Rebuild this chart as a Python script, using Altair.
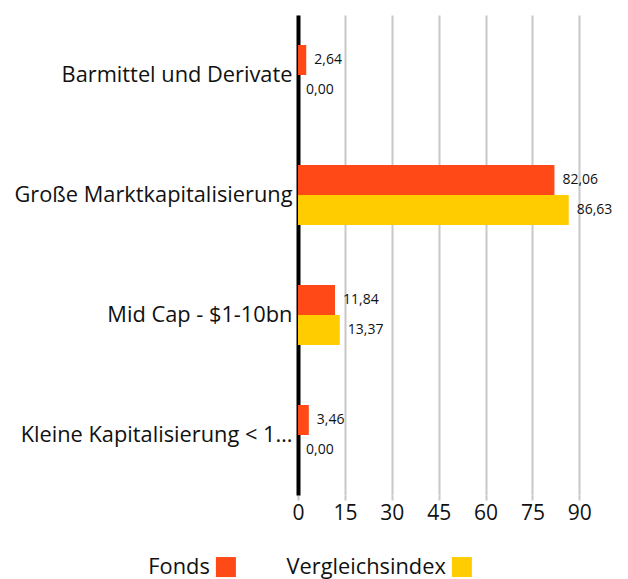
import altair as alt
import pandas as pd

categories = ["Barmittel und Derivate", "Große Marktkapitalisierung", "Mid Cap - $1-10bn", "Kleine Kapitalisierung < 1…"]
series = ["Fonds", "Vergleichsindex"]
fonds = [2.64, 82.06, 11.84, 3.46]
index_vals = [0.00, 86.63, 13.37, 0.00]
colors = ["#FF4A17", "#FFCC00"]
x_ticks = [0, 15, 30, 45, 60, 75, 90]

rows = []
for c, f, v in zip(categories, fonds, index_vals):
    rows.append({"cat": c, "series": series[0], "value": f})
    rows.append({"cat": c, "series": series[1], "value": v})
df = pd.DataFrame(rows)

FONT = "Open Sans"

y_enc = alt.Y("cat:N", sort=categories, title=None,
              scale=alt.Scale(paddingInner=0.5, paddingOuter=0.25),
              axis=alt.Axis(domainColor="#000000", domainWidth=4, ticks=False,
                            labelFontSize=21.8, labelColor="#111111", labelFont=FONT,
                            labelPadding=6, labelLimit=290, minExtent=293, maxExtent=293))
yoff = alt.YOffset("series:N", sort=series, scale=alt.Scale(paddingInner=0, paddingOuter=0))
x_enc = alt.X("value:Q", title=None, scale=alt.Scale(domain=[0, 96], nice=False),
              axis=alt.Axis(values=x_ticks, grid=True, gridColor="#c8c8c8", gridWidth=2,
                            domain=False, tickColor="#c8c8c8", tickWidth=2, tickSize=5,
                            labelFontSize=21, labelColor="#111111", labelFont=FONT,
                            labelPadding=2, labelFlush=False))
color_enc = alt.Color("series:N", sort=series,
                      scale=alt.Scale(domain=series, range=colors),
                      legend=alt.Legend(orient="none", legendX=-83, legendY=541,
                                        direction="horizontal", title=None,
                                        symbolType="square", symbolSize=400,
                                        symbolStrokeWidth=0, symbolOpacity=1,
                                        labelFontSize=21.8, labelFont=FONT, labelColor="#111111",
                                        labelAlign="right", labelOffset={"expr": "-27"},
                                        columnPadding=50, padding=0))

base = alt.Chart(df).encode(y=y_enc, yOffset=yoff)
bars = base.mark_bar().encode(x=x_enc, color=color_enc)
labels = base.mark_text(align="left", baseline="middle", dx=8, fontSize=14, font=FONT, color="#111111").transform_calculate(
    lbl="replace(format(datum.value, '.2f'), '.', ',')"
).encode(x=alt.X("value:Q"), text="lbl:N")

chart = alt.layer(bars, labels).properties(
    width=300, height=480,
    padding={"left": 5, "top": 15, "right": 5, "bottom": 3}
).configure_view(stroke=None)

chart.save("out.html", embed_options={"renderer": "svg", "actions": False})
